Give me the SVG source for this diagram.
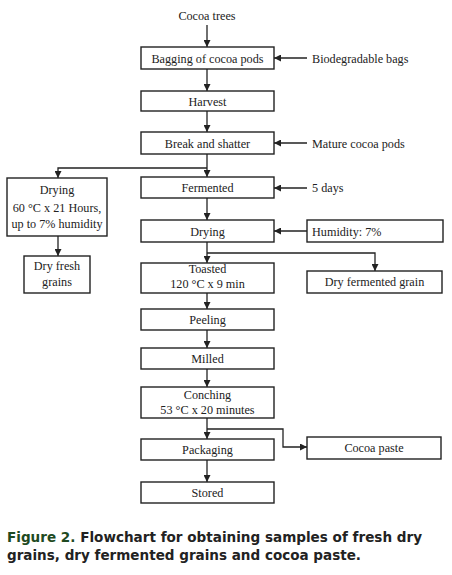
<svg xmlns="http://www.w3.org/2000/svg" width="452" height="575" viewBox="0 0 452 575">
<style>
.box{fill:#fff;stroke:#222;stroke-width:1.4}
.t{font-family:"Liberation Serif","Times New Roman",serif;font-size:12.2px;fill:#222;text-anchor:middle}
.tl{font-family:"Liberation Serif","Times New Roman",serif;font-size:12.2px;fill:#222}
.ln{fill:none;stroke:#222;stroke-width:1.3}
.cap{font-family:"DejaVu Sans","Liberation Sans",sans-serif;font-size:13.5px;font-weight:bold;fill:#222}
</style>
<defs>
<marker id="ah" viewBox="0 0 10 10" refX="10" refY="5" markerWidth="7" markerHeight="7" markerUnits="userSpaceOnUse" orient="auto">
<path d="M0,0 L10,5 L0,10 z" fill="#222"/>
</marker>
</defs>
<rect width="452" height="575" fill="#fff"/>

<g id="connectors">
<path class="ln" d="M207,25 V47" marker-end="url(#ah)"/>
<path class="ln" d="M307,58 H274" marker-end="url(#ah)"/>
<path class="ln" d="M207,69 V91" marker-end="url(#ah)"/>
<path class="ln" d="M207,111 V132" marker-end="url(#ah)"/>
<path class="ln" d="M307,143 H274" marker-end="url(#ah)"/>
<path class="ln" d="M207,154 V177" marker-end="url(#ah)"/>
<path class="ln" d="M207,168 H58 V178" marker-end="url(#ah)"/>
<path class="ln" d="M307,188 H274" marker-end="url(#ah)"/>
<path class="ln" d="M207,198 V220" marker-end="url(#ah)"/>
<path class="ln" d="M307,231 H274" marker-end="url(#ah)"/>
<path class="ln" d="M207,242 V263" marker-end="url(#ah)"/>
<path class="ln" d="M207,253 H375 V271" marker-end="url(#ah)"/>
<path class="ln" d="M58,236 V256" marker-end="url(#ah)"/>
<path class="ln" d="M207,293 V309" marker-end="url(#ah)"/>
<path class="ln" d="M207,330 V348" marker-end="url(#ah)"/>
<path class="ln" d="M207,369 V387" marker-end="url(#ah)"/>
<path class="ln" d="M207,418 V439" marker-end="url(#ah)"/>
<path class="ln" d="M207,429 H283 V447 H307" marker-end="url(#ah)"/>
<path class="ln" d="M207,460 V482" marker-end="url(#ah)"/>
</g>

<g id="cocoa-trees"><text class="t" x="207" y="20">Cocoa trees</text></g>
<g id="bagging"><rect class="box" x="141" y="47" width="133" height="22"/><text class="t" x="207.5" y="62.5">Bagging of cocoa pods</text></g>
<g id="bags"><text class="tl" x="312" y="62.5">Biodegradable bags</text></g>
<g id="harvest"><rect class="box" x="141" y="91" width="133" height="20"/><text class="t" x="207.5" y="105.5">Harvest</text></g>
<g id="break"><rect class="box" x="141" y="132" width="133" height="22"/><text class="t" x="207.5" y="147.5">Break and shatter</text></g>
<g id="mature"><text class="tl" x="312" y="147.5">Mature cocoa pods</text></g>
<g id="drying-left"><rect class="box" x="7" y="178" width="100" height="58"/>
<text class="t" x="57" y="194">Drying</text>
<text class="t" x="57" y="212">60 °C x 21 Hours,</text>
<text class="t" x="57" y="228">up to 7% humidity</text></g>
<g id="dry-fresh"><rect class="box" x="24" y="256" width="66" height="37"/>
<text class="t" x="57" y="270">Dry fresh</text>
<text class="t" x="57" y="286">grains</text></g>
<g id="fermented"><rect class="box" x="141" y="177" width="133" height="21"/><text class="t" x="207.5" y="192">Fermented</text></g>
<g id="days"><text class="tl" x="312" y="192">5 days</text></g>
<g id="drying"><rect class="box" x="141" y="220" width="133" height="22"/><text class="t" x="207.5" y="235.5">Drying</text></g>
<g id="humidity"><rect class="box" x="307" y="220" width="136" height="22"/><text class="tl" x="312" y="235.5">Humidity: 7%</text></g>
<g id="toasted"><rect class="box" x="141" y="263" width="133" height="30"/>
<text class="t" x="207.5" y="273">Toasted</text>
<text class="t" x="207.5" y="288">120 °C x 9 min</text></g>
<g id="dry-fermented"><rect class="box" x="307" y="271" width="135" height="22"/><text class="t" x="374.5" y="286">Dry fermented grain</text></g>
<g id="peeling"><rect class="box" x="141" y="309" width="133" height="21"/><text class="t" x="207.5" y="324">Peeling</text></g>
<g id="milled"><rect class="box" x="141" y="348" width="133" height="21"/><text class="t" x="207.5" y="363">Milled</text></g>
<g id="conching"><rect class="box" x="141" y="387" width="133" height="31"/>
<text class="t" x="207.5" y="399">Conching</text>
<text class="t" x="207.5" y="414">53 °C x 20 minutes</text></g>
<g id="packaging"><rect class="box" x="141" y="439" width="133" height="21"/><text class="t" x="207.5" y="454">Packaging</text></g>
<g id="cocoa-paste"><rect class="box" x="307" y="437" width="134" height="22"/><text class="t" x="374" y="452">Cocoa paste</text></g>
<g id="stored"><rect class="box" x="141" y="482" width="133" height="21"/><text class="t" x="207.5" y="497">Stored</text></g>

<g id="caption">
<text class="cap" x="7" y="542" textLength="415" lengthAdjust="spacingAndGlyphs"><tspan fill="#1e4a22">Figure 2.</tspan> Flowchart for obtaining samples of fresh dry</text>
<text class="cap" x="7" y="560" textLength="354" lengthAdjust="spacingAndGlyphs">grains, dry fermented grains and cocoa paste.</text>
</g>
</svg>
